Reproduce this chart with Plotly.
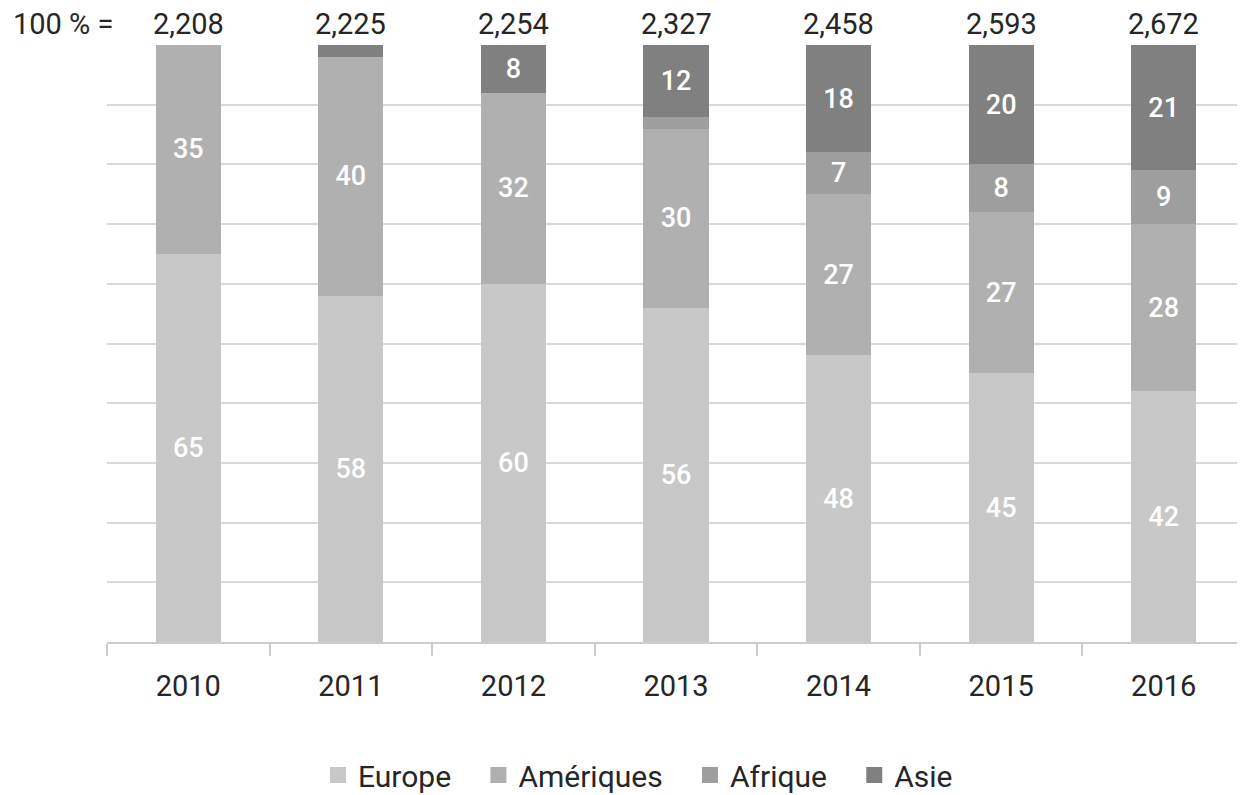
import plotly.graph_objects as go

# 数据
years = ["2010", "2011", "2012", "2013", "2014", "2015", "2016"]
totals = ["2,208", "2,225", "2,254", "2,327", "2,458", "2,593", "2,672"]
europe = [65, 58, 60, 56, 48, 45, 42]
ameriques = [35, 40, 32, 30, 27, 27, 28]
afrique = [0, 0, 0, 2, 7, 8, 9]
asie = [0, 2, 8, 12, 18, 20, 21]

series = [
    ("Europe", europe, "#c8c8c8"),
    ("Amériques", ameriques, "#b0b0b0"),
    ("Afrique", afrique, "#9e9e9e"),
    ("Asie", asie, "#808080"),
]

FONT = "Roboto"
TXT = "#262626"
W, H = 1245, 795
OFF = 8  # 页面 body 默认边距

fig = go.Figure()
for name, vals, color in series:
    # 小于5的段不显示标签
    labels = [str(v) if v >= 5 else "" for v in vals]
    fig.add_trace(go.Bar(
        x=years, y=vals, name=name, showlegend=False,
        marker=dict(color=color, line_width=0),
        text=labels, textposition="inside", insidetextanchor="middle",
        textfont=dict(color="white", size=27, family=FONT, weight=500),
        hoverinfo="skip",
        width=0.4,
    ))

# 图例用的方块
for name, vals, color in series:
    fig.add_trace(go.Scatter(
        x=[None], y=[None], mode="markers", name=name + "\u00a0" * 3,
        marker=dict(symbol="square", size=20, color=color),
        showlegend=True, hoverinfo="skip",
    ))

# 顶部总数
TOP_Y = 1 - (24 - OFF) / H
for i, t in enumerate(totals):
    fig.add_annotation(
        x=i, y=TOP_Y, xref="x", yref="paper", yanchor="middle",
        text=t, showarrow=False,
        font=dict(size=29, color=TXT, family=FONT),
    )
fig.add_annotation(
    x=(11 - OFF) / W, y=TOP_Y, xref="paper", yref="paper",
    xanchor="left", yanchor="middle",
    text="100 % =", showarrow=False,
    font=dict(size=29, color=TXT, family=FONT),
)

fig.update_layout(
    barmode="stack",
    width=W, height=H,
    margin=dict(l=0, r=0, t=0, b=0),
    plot_bgcolor="white", paper_bgcolor="white",
    font=dict(family=FONT, color=TXT),
    showlegend=True,
    legend=dict(
        orientation="h", x=(318 - OFF) / W, xanchor="left",
        y=1 - (775 - OFF) / H, yanchor="middle",
        font=dict(size=30, color=TXT, family=FONT),
        traceorder="normal", itemsizing="trace",
    ),
    xaxis=dict(
        type="category", showgrid=False,
        domain=[(107 - OFF) / W, (107 - OFF + 1138) / W],
        showline=True, linecolor="#cccccc", linewidth=2,
        ticks="outside", tickson="boundaries", ticklen=12,
        tickcolor="#cccccc", tickwidth=2,
        ticklabelstandoff=17,
        tickfont=dict(size=29, color=TXT, family=FONT),
        range=[-0.5, 6.5], automargin=False,
    ),
    yaxis=dict(
        range=[0, 100], dtick=10, showticklabels=False,
        domain=[1 - (642 - OFF) / H, 1 - (45 - OFF) / H],
        showgrid=True, gridcolor="#d9d9d9", gridwidth=2,
        zeroline=False, automargin=False,
    ),
)

fig.write_html("out.html", config={"displayModeBar": False})
